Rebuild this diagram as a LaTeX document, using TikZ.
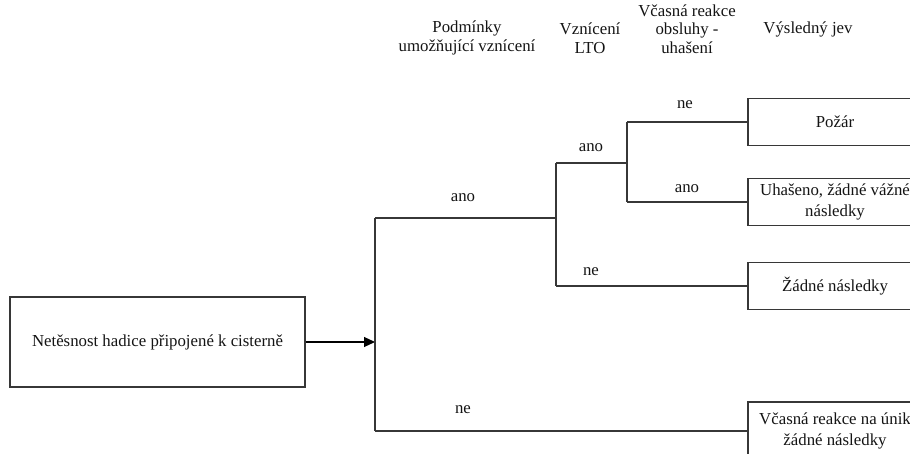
\documentclass[tikz,border=0pt]{standalone}
\usepackage{fontspec}
\setmainfont{Liberation Serif}[Ligatures=TeX]
\usetikzlibrary{arrows.meta, positioning}

\begin{document}
\begin{tikzpicture}[
    x=1pt, y=-1pt,
    % Styles
    event/.style={
        rectangle, draw=linegray, line width=1.1pt,
        minimum width=295pt, minimum height=90pt,
        font=\rmfamily\fontsize{16.8}{21}\selectfont, text=textgray,
        align=center, inner sep=0pt
    },
    outcome/.style={
        rectangle, draw=linegray, line width=1.1pt,
        minimum width=174pt, minimum height=47pt,
        font=\rmfamily\fontsize{16.8}{21}\selectfont, text=textgray,
        align=center, inner sep=0pt
    },
    header/.style={
        font=\rmfamily\fontsize{16.8}{18.5}\selectfont, text=textgray,
        align=center, inner sep=0pt
    },
    answer/.style={
        font=\rmfamily\fontsize{16.8}{19}\selectfont, text=textgray, inner sep=0pt
    },
    branch/.style={
        line width=1.1pt, color=linegray
    },
    arrow/.style={
        -{Triangle[length=11pt, width=10pt]},
        line width=1.1pt, color=black
    },
]
% Define colors
\definecolor{linegray}{RGB}{55,55,55}
\definecolor{textgray}{RGB}{20,20,20}

\useasboundingbox (0,0) rectangle (910,454);
\clip (0,0) rectangle (910,454);

% Column headers
\node[header] (hcond) at (467,38) {Podmínky\\umožňující vznícení};
\node[header] (hign) at (590,38) {Vznícení\\LTO};
\node[header] (hreact) at (687,29) {Včasná reakce\\obsluhy -\\uhašení};
\node[header] (hres) at (808,29) {Výsledný jev};

% Initiating event
\node[event] (src) at (157.5,342) {Netěsnost hadice připojené k cisterně};

% Outcomes
\node[outcome] (pozar) at (835,122) {Požár};
\node[outcome] (uhaseno) at (835,202) {Uhašeno, žádné vážné\\následky};
\node[outcome] (zadne) at (835,286) {Žádné následky};
\node[outcome, minimum height=58pt] (vcasna) at (835,431) {Včasná reakce na únik\\žádné následky};

% Branch points
\coordinate (j1) at (375,342);
\coordinate (j1t) at (375,218);
\coordinate (j1b) at (375,431);
\coordinate (j2) at (556,218);
\coordinate (j2t) at (556,163);
\coordinate (j2b) at (556,286);
\coordinate (j3) at (627,163);
\coordinate (j3t) at (627,122);
\coordinate (j3b) at (627,202);

% Tree
\draw[arrow] (src) -- (j1);
\draw[branch] (j1t) -- (j1b);
\draw[branch] (j1t) -- (j2);
\draw[branch] (j1b) -- (vcasna);
\draw[branch] (j2t) -- (j2b);
\draw[branch] (j2t) -- (j3);
\draw[branch] (j2b) -- (zadne);
\draw[branch] (j3t) -- (j3b);
\draw[branch] (j3t) -- (pozar);
\draw[branch] (j3b) -- (uhaseno);

% Branch labels
\node[answer] (a1) at (463,198) {ano};
\node[answer] (n1) at (463,410) {ne};
\node[answer] (a2) at (591,148) {ano};
\node[answer] (n2) at (591,272) {ne};
\node[answer] (n3) at (685,105) {ne};
\node[answer] (a3) at (687,189) {ano};

\end{tikzpicture}
\end{document}
